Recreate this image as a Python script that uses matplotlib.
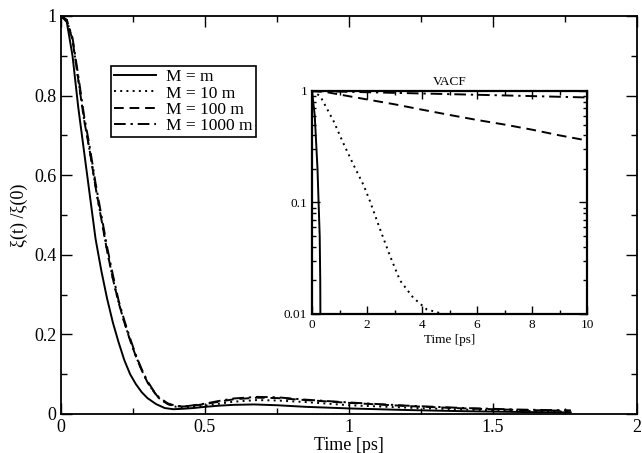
import matplotlib
matplotlib.use("Agg")
import matplotlib.pyplot as plt
from matplotlib.ticker import MultipleLocator, FormatStrFormatter, LogLocator, NullFormatter

plt.rcParams['font.family'] = ['Liberation Serif', 'DejaVu Serif']

# memory kernel xi(t)/xi(0), main panel
t_m = [0, 0.02, 0.04, 0.06, 0.08, 0.1, 0.12, 0.14, 0.16, 0.18, 0.2, 0.22, 0.24, 0.26, 0.28,
       0.3, 0.33, 0.36, 0.39, 0.42, 0.46, 0.5, 0.55, 0.6, 0.67, 0.75, 0.85, 1.0, 1.2, 1.4, 1.6, 1.77]
xi_m = [1, 0.985, 0.9, 0.77, 0.66, 0.55, 0.44, 0.36, 0.29, 0.23, 0.18, 0.135, 0.1, 0.075, 0.055,
        0.04, 0.025, 0.015, 0.012, 0.013, 0.015, 0.018, 0.021, 0.023, 0.024, 0.022, 0.018, 0.014,
        0.010, 0.007, 0.005, 0.004]

t_h = [0, 0.02, 0.04, 0.06, 0.08, 0.1, 0.12, 0.14, 0.16, 0.18, 0.2, 0.22, 0.24, 0.26, 0.28,
       0.3, 0.32, 0.34, 0.37, 0.4, 0.44, 0.5, 0.55, 0.6, 0.68, 0.75, 0.85, 1.0, 1.2, 1.4, 1.6, 1.77]
xi_10m = [1, 0.99, 0.94, 0.84, 0.74, 0.66, 0.57, 0.49, 0.41, 0.34, 0.28, 0.23, 0.185, 0.145, 0.11,
          0.08, 0.058, 0.04, 0.025, 0.018, 0.017, 0.021, 0.026, 0.031, 0.035, 0.034, 0.03, 0.022,
          0.016, 0.011, 0.008, 0.006]
xi_100m = [1, 0.99, 0.94, 0.84, 0.74, 0.66, 0.57, 0.49, 0.41, 0.34, 0.28, 0.23, 0.185, 0.145, 0.11,
           0.08, 0.058, 0.04, 0.025, 0.019, 0.019, 0.025, 0.031, 0.037, 0.041, 0.04, 0.035, 0.028,
           0.02, 0.014, 0.01, 0.008]
xi_1000m = [1, 0.99, 0.945, 0.85, 0.75, 0.67, 0.58, 0.5, 0.42, 0.35, 0.285, 0.235, 0.19, 0.148, 0.113,
            0.083, 0.06, 0.042, 0.027, 0.02, 0.02, 0.026, 0.033, 0.039, 0.043, 0.042, 0.036, 0.029,
            0.021, 0.015, 0.011, 0.009]

# VACF, inset (log scale)
tv_m = [0, 0.1, 0.2, 0.28, 0.3, 0.31]
vacf_m = [1, 0.6, 0.2, 0.05, 0.02, 0.005]
tv_10m = [0, 0.3, 0.78, 1.14, 1.5, 1.87, 2.1, 2.47, 2.84, 3.2, 3.68, 4.17, 4.65, 4.9]
vacf_10m = [1, 0.9, 0.54, 0.34, 0.22, 0.144, 0.104, 0.058, 0.033, 0.02, 0.014, 0.011, 0.0102, 0.0098]
tv_100m = [0, 0.5, 1, 2, 3, 4, 5, 6, 7, 8, 9, 10]
vacf_100m = [1, 0.98, 0.93, 0.84, 0.76, 0.68, 0.61, 0.55, 0.5, 0.45, 0.4, 0.36]
tv_1000m = [0, 2, 4, 6, 8, 10]
vacf_1000m = [1, 0.975, 0.95, 0.925, 0.9, 0.875]

labels = ['M = m', 'M = 10 m', 'M = 100 m', 'M = 1000 m']
styles = ['-', (0, (1, 2.2)), (0, (5, 3)), (0, (6, 2.5, 1.2, 2.5))]

fig = plt.figure(figsize=(6.42, 4.53), dpi=100)
ax = fig.add_axes([61/642, 1-414/453, (637-61)/642, (414-16)/453])

for tt, yy, ls, lab in zip([t_m, t_h, t_h, t_h], [xi_m, xi_10m, xi_100m, xi_1000m], styles, labels):
    ax.plot(tt, yy, color='black', linestyle=ls, linewidth=1.4, label=lab)

ax.set_xlim(0, 2)
ax.set_ylim(0, 1)
ax.xaxis.set_major_locator(MultipleLocator(0.5))
ax.xaxis.set_minor_locator(MultipleLocator(0.25))
ax.yaxis.set_major_locator(MultipleLocator(0.2))
ax.yaxis.set_minor_locator(MultipleLocator(0.1))
ax.xaxis.set_major_formatter(FormatStrFormatter('%g'))
ax.yaxis.set_major_formatter(FormatStrFormatter('%g'))
ax.tick_params(which='both', direction='in', top=True, right=True, labelsize=13, width=1)
ax.tick_params(which='major', length=8)
ax.tick_params(which='minor', length=4)
for s in ax.spines.values():
    s.set_linewidth(1.3)
ax.set_xlabel('Time [ps]', fontsize=13, labelpad=1)
ax.set_ylabel('ξ(t) /ξ(0)', fontsize=13, labelpad=4)

leg = ax.legend(loc='upper left', bbox_to_anchor=(0.086, 0.875), fontsize=12.5, frameon=True,
                fancybox=False, edgecolor='black', framealpha=1, handlelength=2.4,
                borderpad=0.2, labelspacing=0.0, handletextpad=0.6, borderaxespad=0)
leg.get_frame().set_linewidth(1.2)

# inset
ins = fig.add_axes([312/642, 1-314/453, (587-312)/642, (314-91)/453])
for tt, yy, ls in zip([tv_m, tv_10m, tv_100m, tv_1000m], [vacf_m, vacf_10m, vacf_100m, vacf_1000m], styles):
    ins.plot(tt, yy, color='black', linestyle=ls, linewidth=1.4)
ins.set_yscale('log')
ins.set_xlim(0, 10)
ins.set_ylim(0.01, 1)
ins.xaxis.set_major_locator(MultipleLocator(2))
ins.xaxis.set_minor_locator(MultipleLocator(1))
ins.yaxis.set_major_locator(LogLocator(base=10))
ins.yaxis.set_minor_locator(LogLocator(base=10, subs=range(2, 10)))
ins.yaxis.set_minor_formatter(NullFormatter())
ins.yaxis.set_major_formatter(FormatStrFormatter('%g'))
ins.tick_params(which='both', direction='in', top=True, right=True, labelsize=9.5, width=1)
ins.tick_params(which='major', length=6)
ins.tick_params(which='minor', length=3)
for s in ins.spines.values():
    s.set_linewidth(1.6)
ins.set_xlabel('Time [ps]', fontsize=9.5, labelpad=2)
ins.set_title('VACF', fontsize=9.5, pad=4)

fig.savefig('out.png', dpi=100)
